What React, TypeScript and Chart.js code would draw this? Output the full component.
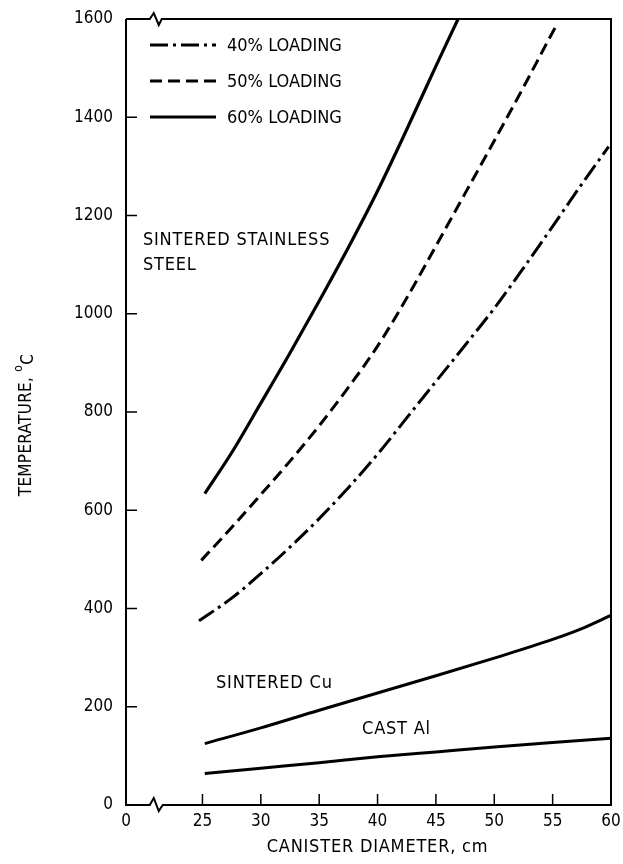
import React, { useEffect, useRef } from "react";
import { Chart, registerables } from "chart.js";

Chart.register(...registerables);

// ---- data ----
const xTickPositions = [18.45, 25, 30, 35, 40, 45, 50, 55, 60]; // 18.45 = broken-axis origin
const xTickLabels = ["0", "25", "30", "35", "40", "45", "50", "55", "60"];
const yTickValues = [0, 200, 400, 600, 800, 1000, 1200, 1400, 1600];

const steel40X = [24.7, 27.5, 30, 32.5, 35, 37.5, 40, 42.5, 45, 47.5, 50, 52.5, 55, 57.5, 59.8];
const steel40Y = [375, 421, 471, 525, 583, 646, 714, 788, 862, 936, 1011, 1093, 1178, 1264, 1340];

const steel50X = [24.9, 27.5, 30, 32.5, 35, 37.5, 40, 42.5, 45, 47.5, 50, 52.5, 55, 55.4];
const steel50Y = [498, 565, 632, 700, 772, 850, 934, 1032, 1138, 1245, 1352, 1461, 1573, 1590];

const steel60X = [25.2, 27.5, 30, 32.5, 35, 37.5, 40, 42.5, 45, 46.9];
const steel60Y = [634, 717, 818, 920, 1026, 1135, 1250, 1375, 1504, 1600];

const cuX = [25.2, 30, 35, 40, 45, 50, 55, 57.5, 60];
const cuY = [125, 157, 193, 228, 263, 299, 337, 359, 386];

const alX = [25.2, 30, 35, 40, 45, 50, 55, 60];
const alY = [64, 75, 86, 98, 108, 118, 127, 136];

const legendLabels = ["40% LOADING", "50% LOADING", "60% LOADING"];

const annotationTexts = ["SINTERED STAINLESS", "STEEL", "SINTERED Cu", "CAST Al"];
const annotationX = [19.9, 19.9, 26.16, 38.67];
const annotationY = [1149, 1098, 248, 154];

const X_MIN = 18.45;
const X_MAX = 60;
const X_BREAK = 21.0;

const FONT = "'DejaVu Sans Condensed', 'DejaVu Sans', sans-serif";

const pts = (xs: number[], ys: number[]) => xs.map((x, i) => ({ x, y: ys[i] }));

const setSpacing = (ctx: any, s: string) => {
  try { ctx.letterSpacing = s; } catch (e) {}
};

const decorPlugin = {
  id: "decor",
  afterDatasetsDraw(chart: any) {
    const { ctx, chartArea } = chart;
    const xs = chart.scales.x;
    const ys = chart.scales.y;
    const { left, right, top, bottom } = chartArea;
    ctx.save();
    ctx.strokeStyle = "#000";
    ctx.fillStyle = "#000";
    ctx.lineWidth = 2;
    ctx.lineCap = "butt";
    ctx.setLineDash([]);

    // frame with axis breaks
    const xb = xs.getPixelForValue(X_BREAK);
    ctx.beginPath();
    ctx.moveTo(left, top);
    ctx.lineTo(left, bottom);
    ctx.lineTo(xb - 6, bottom);
    ctx.lineTo(xb - 2, bottom - 7);
    ctx.lineTo(xb + 3, bottom + 6);
    ctx.lineTo(xb + 7, bottom);
    ctx.lineTo(right, bottom);
    ctx.lineTo(right, top);
    ctx.lineTo(xb + 6, top);
    ctx.lineTo(xb + 3, top + 6);
    ctx.lineTo(xb - 2, top - 6);
    ctx.lineTo(xb - 6, top);
    ctx.lineTo(left, top);
    ctx.stroke();

    // inward ticks
    ctx.lineWidth = 1.5;
    ctx.beginPath();
    yTickValues.forEach((v) => {
      if (v === 0 || v === 1600) return;
      const py = ys.getPixelForValue(v);
      ctx.moveTo(left, py);
      ctx.lineTo(left + 11, py);
    });
    xTickPositions.forEach((v) => {
      if (v === X_MIN || v === X_MAX) return;
      const px = xs.getPixelForValue(v);
      ctx.moveTo(px, bottom);
      ctx.lineTo(px, bottom - 11);
    });
    ctx.stroke();

    // legend
    const lx0 = left + 24;
    const lx1 = left + 90;
    chart.data.datasets.slice(0, 3).forEach((ds: any, i: number) => {
      const ly = top + 26 + i * 36;
      ctx.save();
      ctx.lineWidth = ds.borderWidth;
      ctx.setLineDash(ds.borderDash || []);
      ctx.beginPath();
      ctx.moveTo(lx0, ly);
      ctx.lineTo(lx1, ly);
      ctx.stroke();
      ctx.restore();
      ctx.font = `18px ${FONT}`;
      setSpacing(ctx, "0px");
      ctx.textBaseline = "middle";
      ctx.textAlign = "left";
      ctx.fillText(legendLabels[i], lx1 + 11, ly + 1);
    });

    // annotations
    ctx.font = `18px ${FONT}`;
    ctx.textBaseline = "middle";
    ctx.textAlign = "left";
    setSpacing(ctx, "0.8px");
    annotationTexts.forEach((t, i) => {
      ctx.fillText(t, xs.getPixelForValue(annotationX[i]), ys.getPixelForValue(annotationY[i]));
    });

    // x title
    ctx.font = `18px ${FONT}`;
    setSpacing(ctx, "0.8px");
    ctx.textAlign = "center";
    ctx.fillText("CANISTER DIAMETER, cm", (left + right) / 2 + 9, 847);

    // y title (rotated)
    ctx.save();
    ctx.translate(27, 425);
    ctx.rotate(-Math.PI / 2);
    ctx.textAlign = "left";
    setSpacing(ctx, "0.3px");
    ctx.font = `17px ${FONT}`;
    const main = "TEMPERATURE, ";
    const w1 = ctx.measureText(main).width;
    ctx.font = `12px ${FONT}`;
    const w2 = ctx.measureText("o").width;
    ctx.font = `17px ${FONT}`;
    const w3 = ctx.measureText("C").width;
    const total = w1 + w2 + w3;
    let x = -total / 2;
    ctx.fillText(main, x, 0);
    x += w1;
    ctx.font = `12px ${FONT}`;
    ctx.fillText("o", x, -8);
    x += w2;
    ctx.font = `17px ${FONT}`;
    ctx.fillText("C", x, 2);
    ctx.restore();

    ctx.restore();
  },
};

export default function App() {
  const canvasRef = useRef<HTMLCanvasElement | null>(null);

  useEffect(() => {
    if (!canvasRef.current) return;
    const common = {
      pointRadius: 0,
      borderColor: "#000",
      backgroundColor: "#000",
      fill: false,
      cubicInterpolationMode: "monotone" as const,
      borderCapStyle: "butt" as const,
    };
    const chart = new Chart(canvasRef.current, {
      type: "line",
      data: {
        datasets: [
          { ...common, label: legendLabels[0], data: pts(steel40X, steel40Y), borderWidth: 3, borderDash: [18, 5, 3, 5] },
          { ...common, label: legendLabels[1], data: pts(steel50X, steel50Y), borderWidth: 3, borderDash: [12, 6] },
          { ...common, label: legendLabels[2], data: pts(steel60X, steel60Y), borderWidth: 3.2 },
          { ...common, label: "Sintered Cu", data: pts(cuX, cuY), borderWidth: 3 },
          { ...common, label: "Cast Al", data: pts(alX, alY), borderWidth: 3 },
        ],
      },
      options: {
        animation: false,
        responsive: true,
        maintainAspectRatio: false,
        layout: { padding: { top: 19, right: 12, left: 0, bottom: 0 } },
        plugins: { legend: { display: false }, tooltip: { enabled: false } },
        scales: {
          x: {
            type: "linear",
            min: X_MIN,
            max: X_MAX,
            grid: { display: false, drawTicks: false },
            border: { display: false },
            afterBuildTicks: (scale: any) => {
              scale.ticks = xTickPositions.map((v) => ({ value: v }));
            },
            afterFit: (scale: any) => {
              scale.height = 59;
              scale.paddingLeft = 0;
              scale.paddingRight = 0;
            },
            ticks: {
              autoSkip: false,
              maxRotation: 0,
              padding: 6,
              color: "#000",
              font: { family: FONT, size: 17 },
              callback: (_v: any, idx: number) => xTickLabels[idx],
            },
          },
          y: {
            type: "linear",
            min: 0,
            max: 1600,
            grid: { display: false, drawTicks: false },
            border: { display: false },
            afterBuildTicks: (scale: any) => {
              scale.ticks = yTickValues.map((v) => ({ value: v }));
            },
            afterFit: (scale: any) => {
              scale.width = 126;
              scale.paddingTop = 0;
              scale.paddingBottom = 0;
            },
            ticks: {
              padding: 13,
              color: "#000",
              font: { family: FONT, size: 17 },
              callback: (v: any) => String(v),
            },
          },
        },
      },
      plugins: [decorPlugin],
    });
    return () => chart.destroy();
  }, []);

  return (
    <div style={{ position: "fixed", left: 0, top: 0, width: 623, height: 864, background: "#fff" }}>
      <canvas ref={canvasRef} />
    </div>
  );
}
